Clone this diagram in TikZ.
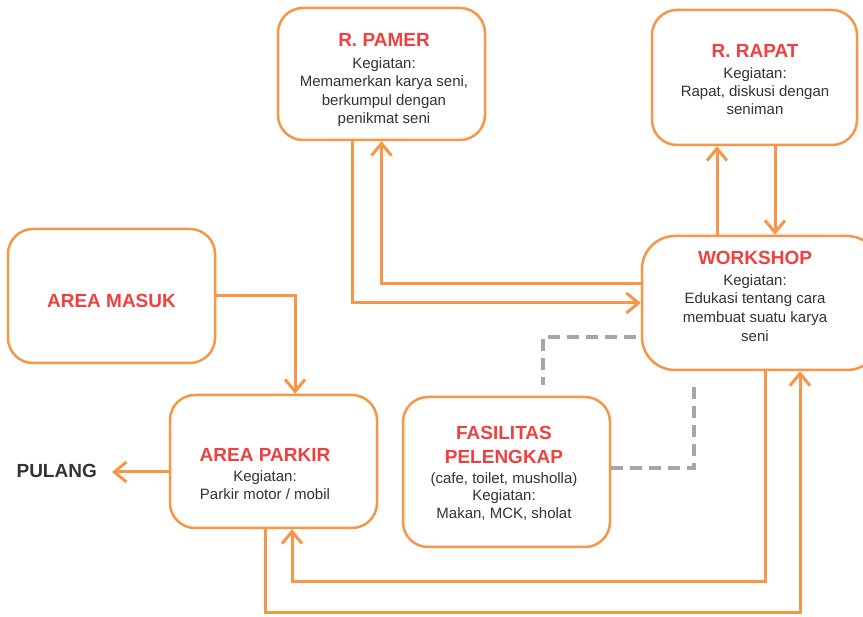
\documentclass[tikz,border=0pt]{standalone}
\usepackage{fontspec}
\setmainfont{Liberation Sans}
\usetikzlibrary{arrows.meta}
\definecolor{org}{RGB}{247,150,70}
\definecolor{ttlc}{RGB}{240,64,64}
\definecolor{txtc}{RGB}{51,51,51}
\definecolor{dshc}{RGB}{166,166,166}
\begin{document}
\begin{tikzpicture}[x=1pt,y=-1pt,
 box/.style={draw=org, line width=2.5pt, rounded corners=25pt, fill=white, inner sep=0pt},
 ttl/.style={text=ttlc, font=\fontsize{19}{24}\selectfont\bfseries, align=center, inner sep=0pt, anchor=base},
 lbl/.style={text=txtc, align=center, font=\fontsize{15}{18.4}\selectfont, inner sep=0pt, anchor=base},
 arr/.style={draw=org, line width=3pt, -{Straight Barb[length=12pt,width=20pt]}},
 dsh/.style={draw=dshc, line width=4pt, dash pattern=on 12pt off 7pt}
]
\useasboundingbox (0,0) rectangle (863,617);
\fill[white] (0,0) rectangle (863,617);

% boxes
\node[box, minimum width=207pt, minimum height=132pt] (pamer) at (381.5,74) {};
\node[box, minimum width=205pt, minimum height=135pt] (rapat) at (754.5,77.5) {};
\node[box, rounded corners=33pt, minimum width=238pt, minimum height=134pt] (workshop) at (761,303) {};
\node[box, minimum width=207pt, minimum height=134pt] (masuk) at (111.5,296) {};
\node[box, minimum width=207pt, minimum height=133pt] (parkir) at (273.5,461.5) {};
\node[box, minimum width=207pt, minimum height=150pt] (fasil) at (506.5,472) {};

% texts (anchor base = baseline of the last line)
\node[ttl] (pamerT) at (384,47) {R. PAMER};
\node[lbl] (pamerL) at (384,123.5) {Kegiatan:\\Memamerkan karya seni,\\berkumpul dengan\\penikmat seni};
\node[ttl] (rapatT) at (755,58) {R. RAPAT};
\node[lbl] (rapatL) at (755,115) {Kegiatan:\\Rapat, diskusi dengan\\seniman};
\node[ttl] (workT) at (755,265) {WORKSHOP};
\node[lbl, font=\fontsize{15}{18.8}\selectfont] (workL) at (755,341.5) {Kegiatan:\\Edukasi tentang cara\\membuat suatu karya\\seni};
\node[ttl] (masukT) at (111.5,308) {AREA MASUK};
\node[ttl] (parkirT) at (265,462) {AREA PARKIR};
\node[lbl, font=\fontsize{15}{17.8}\selectfont] (parkirL) at (265,499.3) {Kegiatan:\\Parkir motor / mobil};
\node[ttl] (fasilT) at (504,463.3) {FASILITAS\\PELENGKAP};
\node[lbl, font=\fontsize{15}{17.5}\selectfont] (fasilL) at (504,518.3) {(cafe, toilet, musholla)\\Kegiatan:\\Makan, MCK, sholat};
\node[ttl, text=txtc, inner xsep=15pt] (pulang) at (56.7,478) {PULANG};

% connectors
\coordinate (low) at (0,613);
\coordinate (mid) at (0,582);
\draw[arr] (masuk.east) -| ([xshift=21.5pt]parkir.north);
\draw[arr] ([yshift=-10.5pt]parkir.west) -- ([yshift=-10.5pt]parkir.west -| pulang.east);
\coordinate (pA) at ([xshift=-8.5pt]parkir.south);
\coordinate (wA) at ([xshift=39pt]workshop.south);
\draw[arr] (pA) -- (pA |- low) -- (wA |- low) -- (wA);
\coordinate (pB) at ([xshift=18.5pt]parkir.south);
\coordinate (wB) at ([xshift=4pt]workshop.south);
\draw[arr] (wB) -- (wB |- mid) -- (pB |- mid) -- (pB);
\coordinate (pmA) at ([xshift=-29.5pt]pamer.south);
\draw[arr] (pmA) |- (workshop.west);
\draw[arr] ([yshift=19pt]workshop.west) -| (pamer.south);
\draw[arr] ([xshift=-44pt]workshop.north) -- ([xshift=-37.5pt]rapat.south);
\draw[arr] ([xshift=20.5pt]rapat.south) -- ([xshift=14pt]workshop.north);
\coordinate (dA) at (543,385);
\draw[dsh] ([xshift=-5pt,yshift=-34pt]workshop.west) -| (dA);
\coordinate (dB) at (694,382);
\draw[dsh] ([yshift=4pt]fasil.east) -| (dB);
\end{tikzpicture}
\end{document}
